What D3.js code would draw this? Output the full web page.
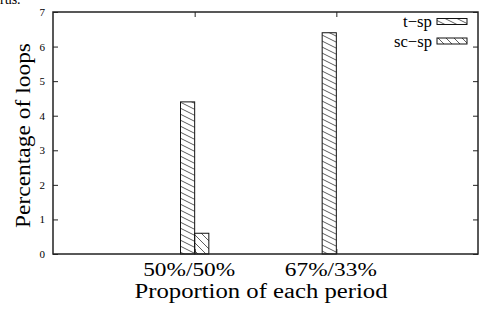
<!DOCTYPE html>
<html>
<head>
<meta charset="utf-8">
<script src="https://cdn.jsdelivr.net/npm/d3@7"></script>
<style>
  body { margin: 0; background: #fff; }
  svg { display: block; }
  svg text { font-family: "Liberation Serif", "Times New Roman", Times, serif; }
</style>
</head>
<body>
<svg width="486" height="311"></svg>
<script>
  // data
  const categories = ["50%/50%", "67%/33%"];
  const seriesNames = ["t\u2212sp", "sc\u2212sp"];
  const tspValues = [4.4, 6.4];
  const scspValues = [0.6, 0];
  const yTicks = [0, 1, 2, 3, 4, 5, 6, 7];

  const svg = d3.select("svg");
  const mLeft = 53, mRight = 478, mTop = 12, mBottom = 254;

  // histogram slots: category i sits at x = i, range -1..2
  const x = d3.scaleLinear().domain([-1, 2]).range([mLeft, mRight]);
  const y = d3.scaleLinear().domain([0, 7]).range([mBottom, mTop]);
  const barW = 0.1;

  // hatch patterns
  const defs = svg.append("defs");
  const p1 = defs.append("pattern").attr("id", "hatchA")
    .attr("patternUnits", "userSpaceOnUse").attr("width", 12).attr("height", 6);
  p1.append("path").attr("d", "M0,0 L12,6 M-12,0 L12,12 M0,-6 L24,6")
    .attr("stroke", "#333").attr("stroke-width", 0.8).attr("fill", "none");
  const p2 = defs.append("pattern").attr("id", "hatchB")
    .attr("patternUnits", "userSpaceOnUse").attr("width", 8).attr("height", 8);
  p2.append("path").attr("d", "M0,0 L8,8 M-4,4 L4,12 M4,-4 L12,4")
    .attr("stroke", "#333").attr("stroke-width", 0.8).attr("fill", "none");
  const fills = ["url(#hatchA)", "url(#hatchB)"];

  // fragment of caption cut at top
  svg.append("text").attr("x", 0).attr("y", 3.5)
    .attr("font-size", 14).text("rus.");

  // bars
  const bars = [];
  categories.forEach((c, i) => {
    bars.push({ s: 0, x0: i - barW, v: tspValues[i] });
    bars.push({ s: 1, x0: i, v: scspValues[i] });
  });
  svg.append("g").selectAll("rect").data(bars).join("rect")
    .attr("x", d => x(d.x0))
    .attr("y", d => y(d.v))
    .attr("width", d => x(d.x0 + barW) - x(d.x0))
    .attr("height", d => y(0) - y(d.v))
    .attr("fill", d => fills[d.s])
    .attr("stroke", "#111")
    .attr("stroke-width", 1);

  // axes with inward ticks
  const gl = svg.append("g").attr("transform", `translate(${mLeft},0)`)
    .call(d3.axisLeft(y).tickValues(yTicks).tickSize(-5).tickPadding(8)
      .tickFormat(d3.format("d")));
  gl.attr("font-family", null);
  gl.selectAll("text").attr("font-size", 11).attr("fill", "#000");
  svg.append("g").attr("transform", `translate(${mRight},0)`)
    .call(d3.axisRight(y).tickValues(yTicks).tickSize(-5).tickFormat(""));
  const gb = svg.append("g").attr("transform", `translate(0,${mBottom})`)
    .call(d3.axisBottom(x).tickValues([0, 1]).tickSize(-5).tickPadding(9)
      .tickFormat(i => categories[i]));
  gb.attr("font-family", null);
  gb.selectAll("text").attr("font-size", 19)
    .attr("fill", "#000").attr("dx", -6).attr("dy", "0.66em")
    .attr("textLength", 92).attr("lengthAdjust", "spacingAndGlyphs");
  svg.append("g").attr("transform", `translate(0,${mTop})`)
    .call(d3.axisTop(x).tickValues([0, 1]).tickSize(-5).tickFormat(""));
  svg.selectAll(".domain").remove();
  svg.selectAll(".tick line").attr("stroke", "#222").attr("stroke-width", 1);

  // frame
  svg.append("rect").attr("x", mLeft).attr("y", mTop)
    .attr("width", mRight - mLeft).attr("height", mBottom - mTop)
    .attr("fill", "none").attr("stroke", "#222").attr("stroke-width", 1.5);

  // axis titles
  svg.append("text").attr("x", 261).attr("y", 298)
    .attr("text-anchor", "middle").attr("font-size", 20)
    .attr("textLength", 253).attr("lengthAdjust", "spacingAndGlyphs")
    .text("Proportion of each period");
  svg.append("text")
    .attr("transform", "translate(30,135.5) rotate(-90)")
    .attr("text-anchor", "middle").attr("font-size", 21)
    .attr("textLength", 185).attr("lengthAdjust", "spacingAndGlyphs")
    .text("Percentage of loops");

  // legend
  const legY = [21.5, 41];
  const legLen = [29, 38];
  const leg = svg.append("g").selectAll("g").data(seriesNames).join("g");
  leg.append("text").attr("x", 432).attr("y", (d, i) => legY[i] + 5.5)
    .attr("text-anchor", "end").attr("font-size", 17)
    .attr("textLength", (d, i) => legLen[i]).attr("lengthAdjust", "spacingAndGlyphs")
    .text(d => d);
  leg.append("rect").attr("x", 437).attr("y", (d, i) => legY[i] - 3)
    .attr("width", 30).attr("height", 6)
    .attr("fill", (d, i) => fills[i]).attr("stroke", "#111").attr("stroke-width", 1);
</script>
</body>
</html>
